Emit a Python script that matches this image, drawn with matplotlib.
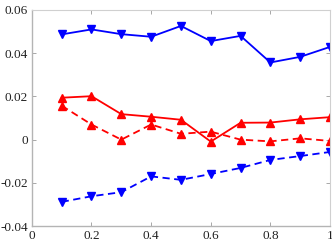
import matplotlib
matplotlib.use("Agg")
import matplotlib.pyplot as plt

x = [0.1, 0.2, 0.3, 0.4, 0.5, 0.6, 0.7, 0.8, 0.9, 1.0]
blue_solid = [0.0487, 0.0510, 0.0488, 0.0476, 0.0526, 0.0456, 0.0480, 0.0357, 0.0383, 0.0429]
red_solid = [0.0194, 0.0201, 0.0118, 0.0106, 0.0092, -0.0009, 0.0078, 0.0079, 0.0094, 0.0104]
red_dashed = [0.0157, 0.0070, 0.0000, 0.0070, 0.0027, 0.0037, 0.0000, -0.0008, 0.0006, -0.0006]
blue_dashed = [-0.0288, -0.0262, -0.0243, -0.0170, -0.0186, -0.0159, -0.0131, -0.0094, -0.0076, -0.0057]

xticks = [0, 0.2, 0.4, 0.6, 0.8, 1]
xticklabels = ["0", "0.2", "0.4", "0.6", "0.8", "1"]
yticks = [-0.04, -0.02, 0, 0.02, 0.04, 0.06]
yticklabels = ["-0.04", "-0.02", "0", "0.02", "0.04", "0.06"]

plt.rcParams['font.family'] = ['Liberation Serif', 'DejaVu Serif']

fig = plt.figure(figsize=(3.32, 2.49), dpi=100)
ax = fig.add_axes([0.096, 0.092, 0.898, 0.868])

ms = 5.5
lw = 1.3
ax.plot(x, blue_solid, '-', color='#0000ff', marker='v', markersize=ms, linewidth=lw)
ax.plot(x, red_solid, '-', color='#ff0000', marker='^', markersize=ms, linewidth=lw)
ax.plot(x, red_dashed, '--', color='#ff0000', marker='^', markersize=ms, linewidth=lw, dashes=(4, 2.5))
ax.plot(x, blue_dashed, '--', color='#0000ff', marker='v', markersize=ms, linewidth=lw, dashes=(4, 2.5))

ax.set_xlim(0, 1)
ax.set_ylim(-0.04, 0.06)
ax.set_xticks(xticks)
ax.set_xticklabels(xticklabels)
ax.set_yticks(yticks)
ax.set_yticklabels(yticklabels)

for s in ['left', 'bottom']:
    ax.spines[s].set_color('#b4b4b4')
    ax.spines[s].set_linewidth(1.0)
for s in ['top', 'right']:
    ax.spines[s].set_color('#d0d0d0')
    ax.spines[s].set_linewidth(0.8)
ax.tick_params(direction='in', length=3, width=0.6, color='#9a9a9a',
               labelsize=9.5, labelcolor='#222222', top=True, right=True, pad=3)

fig.savefig('out.png', dpi=100)
